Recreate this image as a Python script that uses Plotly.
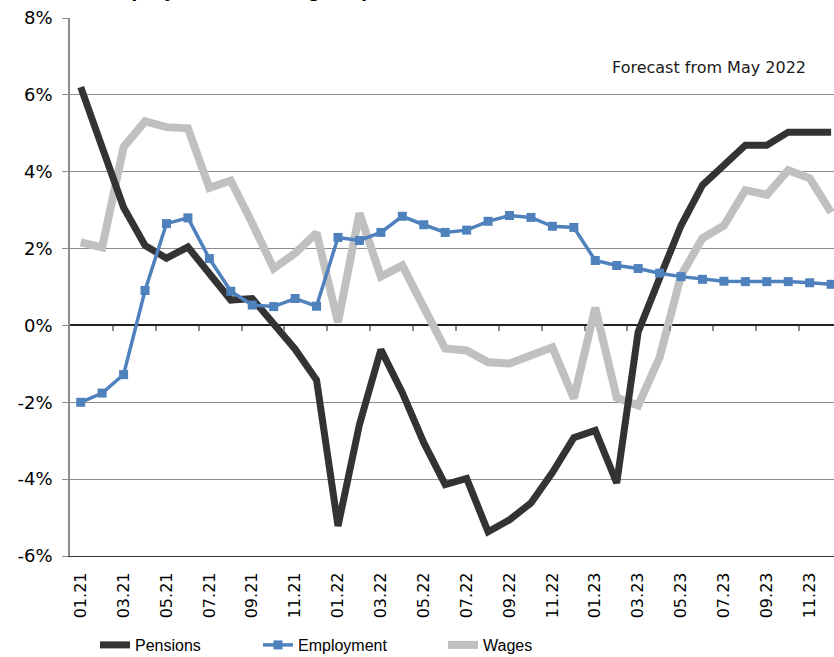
import plotly.graph_objects as go

months = ["01.21", "02.21", "03.21", "04.21", "05.21", "06.21", "07.21", "08.21", "09.21", "10.21", "11.21", "12.21",
          "01.22", "02.22", "03.22", "04.22", "05.22", "06.22", "07.22", "08.22", "09.22", "10.22", "11.22", "12.22",
          "01.23", "02.23", "03.23", "04.23", "05.23", "06.23", "07.23", "08.23", "09.23", "10.23", "11.23", "12.23"]

pensions = [6.2, 4.7, 3.07, 2.08, 1.75, 2.04, 1.36, 0.66, 0.7, 0.02, -0.62, -1.42,
            -5.22, -2.58, -0.63, -1.75, -3.05, -4.14, -3.98, -5.37, -5.06, -4.62, -3.83, -2.92,
            -2.73, -4.1, -0.17, 1.23, 2.6, 3.65, 4.16, 4.69, 4.69, 5.03, 5.03, 5.03]

employment = [-2.0, -1.76, -1.28, 0.91, 2.65, 2.8, 1.74, 0.89, 0.53, 0.49, 0.7, 0.5,
              2.29, 2.21, 2.42, 2.84, 2.62, 2.42, 2.48, 2.71, 2.86, 2.81, 2.58, 2.55,
              1.69, 1.56, 1.48, 1.36, 1.27, 1.2, 1.15, 1.14, 1.14, 1.14, 1.11, 1.07]

wages = [2.16, 2.03, 4.64, 5.31, 5.16, 5.13, 3.58, 3.77, 2.66, 1.48, 1.88, 2.41,
         0.08, 2.92, 1.27, 1.56, 0.47, -0.6, -0.65, -0.96, -0.99, -0.78, -0.57, -1.9,
         0.46, -1.88, -2.08, -0.83, 1.3, 2.27, 2.6, 3.52, 3.4, 4.04, 3.83, 2.94]

tick_labels = months[::2]
y_ticks = [-6, -4, -2, 0, 2, 4, 6, 8]
y_tick_text = ["-6%", "-4%", "-2%", "0%", "2%", "4%", "6%", "8%"]
boundary_ticks = [i + 1.5 for i in range(0, 34, 2)]

title_text = "Employment, earnings & pensions"
note_text = "Forecast from May 2022"

C_PEN = "#333333"
C_EMP = "#4f81bd"
C_WAG = "#c0c0c0"
GRID = "#8c8c8c"
LEG_FONT = dict(family="Liberation Sans Narrow, Liberation Sans, Arial, sans-serif", size=16, color="#000000")

fig = go.Figure()
fig.add_trace(go.Scatter(x=months, y=wages, name="Wages", mode="lines",
                         line=dict(color=C_WAG, width=8), legend="legend3"))
fig.add_trace(go.Scatter(x=months, y=pensions, name="Pensions", mode="lines",
                         line=dict(color=C_PEN, width=7), legend="legend"))
fig.add_trace(go.Scatter(x=months, y=employment, name="Employment", mode="lines+markers",
                         line=dict(color=C_EMP, width=3.5),
                         marker=dict(symbol="square", size=9, color=C_EMP), legend="legend2"))
# helper (invisible) trace so the zero-line tick axis is drawn
fig.add_trace(go.Scatter(x=[0], y=[0], xaxis="x2", mode="markers", marker=dict(opacity=0),
                         showlegend=False, hoverinfo="skip"))

L, R, T, B = 70, 0, 18, 101
W, H = 834, 657
pw, ph = W - L - R, H - T - B

def px_x(px):
    return (px - L) / pw

def px_y(py):
    return (H - B - py) / ph

xr = [-0.5, -0.5 + pw / 21.44]

fig.update_layout(
    width=W, height=H,
    margin=dict(l=L, r=R, t=T, b=B, autoexpand=False),
    paper_bgcolor="white", plot_bgcolor="white",
    xaxis=dict(type="category", range=xr, tickmode="array", tickvals=tick_labels, ticktext=tick_labels,
               tickangle=-90, ticks="", showgrid=False, zeroline=False, automargin=False,
               showline=True, linecolor="#333333", linewidth=1.2,
               tickfont=dict(family="DejaVu Sans, Verdana, sans-serif", size=16, color="#000000"),
               ticklabelstandoff=9),
    xaxis2=dict(overlaying="x", anchor="free", position=6 / 14, range=xr, type="linear",
                tickmode="array", tickvals=boundary_ticks, ticks="outside", ticklen=5, tickwidth=1.5,
                tickcolor=GRID, showticklabels=False, showgrid=False, zeroline=False, showline=False),
    yaxis=dict(range=[-6, 8], tickmode="array", tickvals=y_ticks, ticktext=y_tick_text,
               showgrid=True, gridcolor=GRID, gridwidth=1, automargin=False,
               zeroline=True, zerolinecolor="#222222", zerolinewidth=1.5,
               showline=True, linecolor=GRID, linewidth=1.8,
               ticks="outside", ticklen=6, tickcolor=GRID, tickwidth=1.2,
               ticklabelstandoff=6,
               tickfont=dict(family="DejaVu Sans, Verdana, sans-serif", size=18, color="#000000")),
    legend=dict(orientation="h", x=px_x(95), y=px_y(645), xanchor="left", yanchor="middle",
                font=LEG_FONT, bgcolor="rgba(0,0,0,0)"),
    legend2=dict(orientation="h", x=px_x(258), y=px_y(645), xanchor="left", yanchor="middle",
                 font=LEG_FONT, bgcolor="rgba(0,0,0,0)"),
    legend3=dict(orientation="h", x=px_x(443), y=px_y(645), xanchor="left", yanchor="middle",
                 font=LEG_FONT, bgcolor="rgba(0,0,0,0)"),
    annotations=[
        dict(text=note_text, xref="paper", yref="paper", x=px_x(808), y=px_y(67),
             xanchor="right", yanchor="middle", showarrow=False,
             font=dict(family="DejaVu Sans, Verdana, sans-serif", size=16, color="#1a1a1a")),
        dict(text="<b>" + title_text + "</b>", xref="paper", yref="paper", x=px_x(95), y=px_y(3),
             xanchor="left", yanchor="bottom", showarrow=False,
             font=dict(family="Liberation Sans, Arial, sans-serif", size=22, color="#000000")),
    ],
)

fig.write_html("out.html")
